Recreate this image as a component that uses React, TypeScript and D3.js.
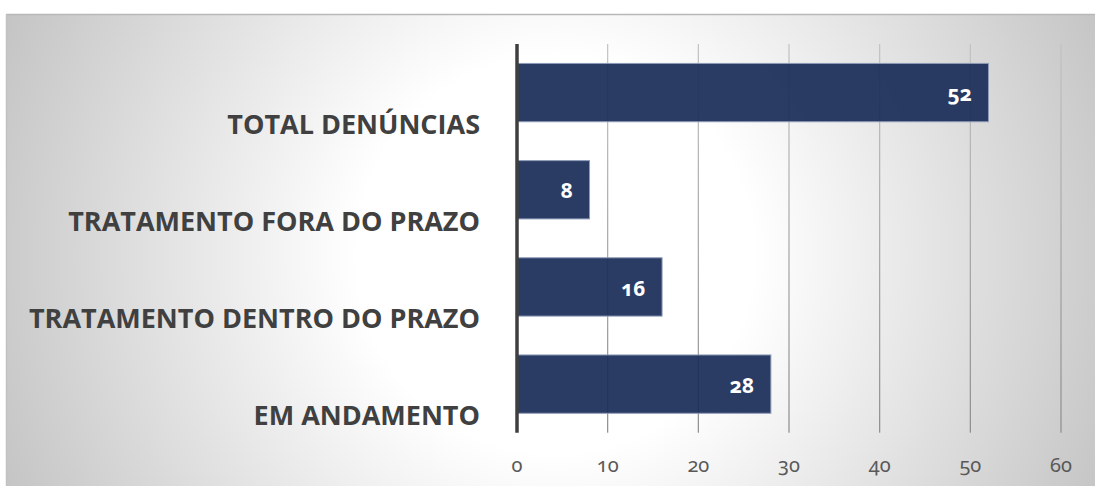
import React from "react";
import * as d3 from "d3";

const categories = [
  "TOTAL DENÚNCIAS",
  "TRATAMENTO FORA DO PRAZO",
  "TRATAMENTO DENTRO DO PRAZO",
  "EM ANDAMENTO",
];
const values = [52, 8, 16, 28];
const ticks = [0, 10, 20, 30, 40, 50, 60];

const W = 1095;
const H = 486;

export default function App() {
  const x = d3.scaleLinear().domain([0, 60]).range([517, 1061]);
  const y = d3
    .scaleBand<string>()
    .domain(categories)
    .range([44, 432.7])
    .paddingInner(0.4)
    .paddingOuter(0.2);
  const numFont = "'Noto Sans', 'Open Sans', sans-serif";
  const catFont = "'Open Sans', 'Noto Sans', sans-serif";
  return (
    <svg
      width={W}
      height={H}
      style={{ position: "absolute", left: 0, top: 0, background: "#fff" }}
    >
      <defs>
        <radialGradient
          id="bg"
          gradientUnits="userSpaceOnUse"
          cx={555}
          cy={255}
          r={600}
        >
          <stop offset="0" stopColor="#ffffff" />
          <stop offset="0.33" stopColor="#ffffff" />
          <stop offset="1" stopColor="#c4c4c4" />
        </radialGradient>
        <linearGradient id="grid" x1="0" y1="0" x2="0" y2="1">
          <stop offset="0" stopColor="#c2c2c2" />
          <stop offset="1" stopColor="#8c8c8c" />
        </linearGradient>
      </defs>
      <rect x={6} y={14} width={W - 6} height={H - 14} fill="url(#bg)" />
      <line x1={6} x2={W} y1={14.5} y2={14.5} stroke="#b8b8b8" strokeWidth={1.6} />
      <line x1={6.5} x2={6.5} y1={14} y2={H} stroke="#c2c2c2" strokeWidth={1.5} />

      {ticks.slice(1).map((t) => (
        <rect
          key={"g" + t}
          x={x(t) - 0.6}
          width={1.2}
          y={44}
          height={432.7 - 44}
          fill="url(#grid)"
        />
      ))}

      {categories.map((c, i) => (
        <rect
          key={"b" + c}
          x={x(0)}
          y={y(c)}
          width={x(values[i]) - x(0)}
          height={y.bandwidth()}
          fill="#1b2d58"
          fillOpacity={0.93}
          stroke="#8d9bb8"
          strokeWidth={1}
        />
      ))}

      <line
        x1={x(0)}
        x2={x(0)}
        y1={44}
        y2={432.7}
        stroke="#3f3f3f"
        strokeWidth={3.5}
      />

      {categories.map((c, i) => (
        <text
          key={"v" + c}
          x={x(values[i]) - 16.5}
          y={(y(c) as number) + y.bandwidth() / 2 + 8.7}
          textAnchor="end"
          fill="#ffffff"
          fontFamily={numFont}
          fontWeight={700}
          fontSize={21}
          style={{ fontVariantNumeric: "oldstyle-nums" }}
        >
          {values[i]}
        </text>
      ))}

      {categories.map((c) => (
        <text
          key={"c" + c}
          x={480}
          y={(y(c) as number) + y.bandwidth() / 2 + 41}
          textAnchor="end"
          fill="#404040"
          fontFamily={catFont}
          fontWeight={700}
          fontSize={27}
        >
          {c}
        </text>
      ))}

      {ticks.map((t) => (
        <text
          key={"t" + t}
          x={x(t)}
          y={471.5}
          textAnchor="middle"
          fill="#595959"
          fontFamily={numFont}
          fontSize={20}
          style={{ fontVariantNumeric: "oldstyle-nums" }}
        >
          {t}
        </text>
      ))}
    </svg>
  );
}
